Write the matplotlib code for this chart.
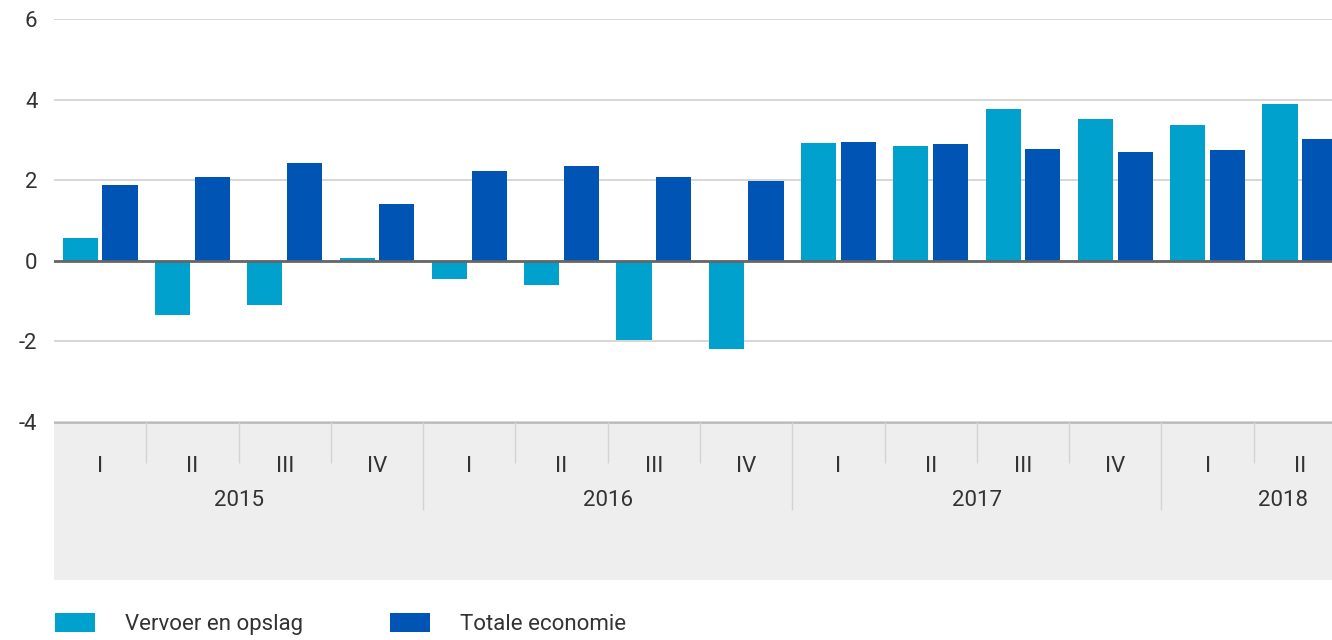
import numpy as np
import matplotlib.pyplot as plt
from matplotlib.patches import Patch

### Data

quarters = ['I', 'II', 'III', 'IV', 'I', 'II', 'III', 'IV', 'I', 'II', 'III', 'IV', 'I', 'II']
years = ['2015', '2016', '2017', '2018']
year_centres = [1.5, 5.5, 9.5, 12.82]
year_bounds = [3.5, 7.5, 11.5]

vervoer = [0.57, -1.35, -1.09, 0.07, -0.45, -0.59, -1.97, -2.20,
           2.93, 2.85, 3.77, 3.51, 3.36, 3.88]
totaal = [1.88, 2.09, 2.43, 1.40, 2.23, 2.35, 2.09, 1.98,
          2.96, 2.90, 2.78, 2.71, 2.75, 3.03]

y_ticks = [-4, -2, 0, 2, 4, 6]
series_names = ['Vervoer en opslag', 'Totale economie']
colours = ['#00a1cd', '#0054b4']

### Plot

plt.rcParams['font.family'] = ['Roboto', 'DejaVu Sans']
text_colour = '#333333'
fs = 16

fig = plt.figure(figsize = (13.32, 6.4), dpi = 100)
W, H = 1332., 640.
left, right = 54 / W, 1346 / W
ax = fig.add_axes([left, (H - 422) / H, right - left, (422 - 19) / H])

x = np.arange(len(quarters))
width = 0.38
ax.bar(x - 0.215, vervoer, width, color = colours[0], zorder = 3)
ax.bar(x + 0.215, totaal, width, color = colours[1], zorder = 3)

ax.set_xlim(-0.5, len(quarters) - 0.5)
ax.set_ylim(-4, 6)
ax.set_yticks(y_ticks)
ax.set_yticklabels([str(v) for v in y_ticks])
ax.tick_params(axis = 'y', length = 0, pad = 12, labelsize = fs, labelcolor = text_colour)
ax.set_xticks([])
ax.grid(axis = 'y', color = '#d0d0d0', linewidth = 1.2, zorder = 0)
ax.axhline(0, color = '#666666', linewidth = 2, zorder = 4)
for side in ['top', 'right', 'bottom', 'left']:
   ax.spines[side].set_visible(False)

# Category band under the bars
band = fig.add_axes([left, (H - 580) / H, right - left, (580 - 422) / H])
band.set_facecolor('#eeeeee')
band.set_xlim(-0.5, len(quarters) - 0.5)
band.set_ylim(580, 422)
band.set_xticks([])
band.set_yticks([])
for side in ['top', 'right', 'bottom', 'left']:
   band.spines[side].set_visible(False)
band.axhline(422, color = '#bbbbbb', linewidth = 2)

for i, q in enumerate(quarters):
   band.text(i, 467, q, ha = 'center', va = 'center', fontsize = fs, color = text_colour)
   if i > 0:
      bottom = 510 if (i - 0.5) in year_bounds else 463
      band.vlines(i - 0.5, 422, bottom, color = '#d4d4d4', linewidth = 1)
for yr, xc in zip(years, year_centres):
   band.text(xc, 501, yr, ha = 'center', va = 'center', fontsize = fs, color = text_colour)

handles = [Patch(facecolor = c) for c in colours]
fig.legend(handles, series_names, loc = 'center left', bbox_to_anchor = (55 / W, (H - 624) / H),
           ncol = 2, frameon = False, fontsize = fs, borderpad = 0, borderaxespad = 0,
           handlelength = 1.8, handleheight = 0.9, handletextpad = 1.35, columnspacing = 3.9,
           labelcolor = text_colour)

fig.savefig('out.png', dpi = 100)
